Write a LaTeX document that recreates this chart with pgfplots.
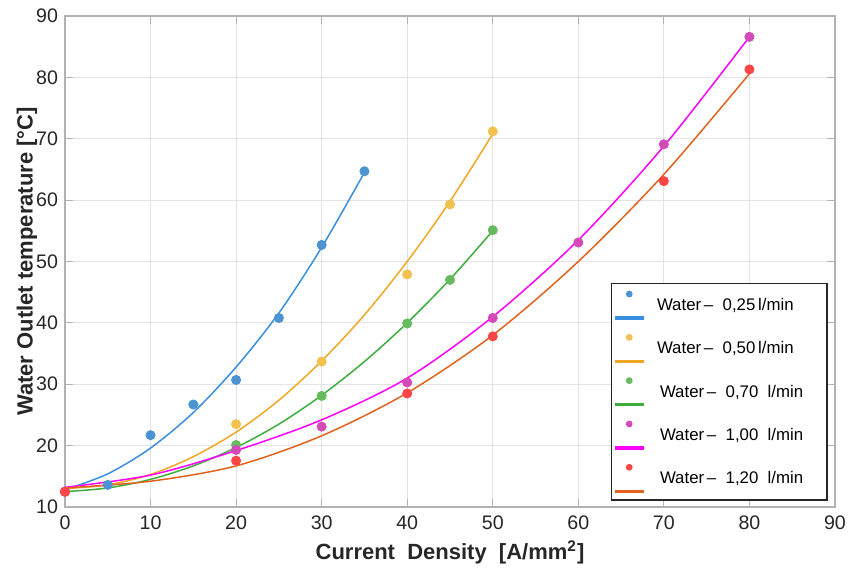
\documentclass[border=0pt]{standalone}
\usepackage{fontspec}
\setmainfont{Liberation Sans}
\usepackage{pgfplots}
\pgfplotsset{compat=1.18}

\definecolor{tickgray}{HTML}{262626}
\definecolor{bluedot}{HTML}{4C93D1}
\definecolor{blueline}{HTML}{3A8FE0}
\definecolor{yeldot}{HTML}{F2C150}
\definecolor{yelline}{HTML}{F0A824}
\definecolor{grndot}{HTML}{66BB5E}
\definecolor{grnline}{HTML}{3DAE3D}
\definecolor{magdot}{HTML}{D44BB8}
\definecolor{magline}{HTML}{FF00FF}
\definecolor{reddot}{HTML}{FF4545}
\definecolor{orgline}{HTML}{E0621E}

\pgfplotsset{
  dotline/.style 2 args={legend image code/.code={
      \fill[#1] (7pt,6pt) circle (1.3pt);
      \fill[#2] (0pt,-6.5pt) rectangle (14pt,-5.5pt);
      \path (-1.5pt,0pt) (15.5pt,0pt);}},
  dots/.style={only marks, mark=*, mark size=2.3pt, color=#1, forget plot},
  fit/.style={no marks, smooth, line width=0.75pt, color=#1},
}

\begin{document}
\begin{tikzpicture}
\useasboundingbox (-32.5pt,-30.5pt) rectangle (391.5pt,253.5pt);
\begin{axis}[
  scale only axis, width=385pt, height=245.5pt,
  xmin=0, xmax=90, ymin=10, ymax=90,
  xtick={0,10,...,90}, ytick={10,20,...,90},
  grid=major, major grid style={gray!22, line width=0.6pt},
  axis line style={gray!60, line width=0.6pt},
  tick style={gray!60, line width=0.6pt},
  tick align=inside, major tick length=4pt,
  tick label style={font=\fontsize{9.8}{11}\selectfont, text=tickgray},
  /pgf/number format/assume math mode=true,
  xticklabel style={yshift=-1pt},
  xlabel={\textbf{Current\ \ Density\ \ [A/mm\textsuperscript{2}]}},
  ylabel={\textbf{Water Outlet temperature [°C]}},
  label style={font=\fontsize{11}{13}\selectfont, text=tickgray},
  xlabel style={at={(axis description cs:0.5,0)}, anchor=center, yshift=-22.5pt},
  ylabel style={at={(axis description cs:-0.0494,0.5)}, anchor=center},
  legend style={at={(rel axis cs:0.709,0.456)}, anchor=north west,
    draw=tickgray, line width=0.6pt, fill=white,
    font=\fontsize{8.4}{9.5}\selectfont, inner xsep=0pt, inner ysep=3.5pt,
    row sep=7.1pt, column sep=0pt},
  legend cell align=left,
]
% 0,25 l/min
\addplot[dots=bluedot] coordinates {(0,12.5) (5,13.6) (10,21.7) (15,26.7) (20,30.7) (25,40.8) (30,52.7) (35,64.7)};
\addplot[fit=blueline, dotline={bluedot}{blueline}] coordinates {
  (0,12.8) (5,15.4) (10,19.6) (15,25.4) (20,32.8) (25,41.6) (30,52.3) (35,64.5)};
\addlegendentry{\hspace{3pt}\makebox[83pt][l]{Water\,--\ \ 0,25\,l/min}}
% 0,50 l/min
\addplot[dots=yeldot] coordinates {(0,12.5) (20,23.5) (30,33.7) (40,47.9) (45,59.3) (50,71.2)};
\addplot[fit=yelline, dotline={yeldot}{yelline}] coordinates {
  (0,13.0) (5,13.6) (10,15.3) (15,18.2) (20,22.2) (25,27.4) (30,33.8) (35,41.3) (40,50.0) (45,59.8) (50,70.8)};
\addlegendentry{\hspace{3pt}\makebox[83pt][l]{Water\,--\ \ 0,50\,l/min}}
% 0,70 l/min
\addplot[dots=grndot] coordinates {(0,12.5) (20,20.1) (30,28.1) (40,39.9) (45,47.0) (50,55.1)};
\addplot[fit=grnline, dotline={grndot}{grnline}] coordinates {
  (0,12.5) (5,13.1) (10,14.5) (15,16.7) (20,19.7) (25,23.5) (30,28.2) (35,33.7) (40,40.0) (45,47.1) (50,55.0)};
\addlegendentry{\hspace{4.5pt}\makebox[81.5pt][l]{Water\,--\ \ 0,70\ \ l/min}}
% 1,00 l/min
\addplot[dots=magdot] coordinates {(0,12.5) (20,19.3) (30,23.1) (40,30.3) (50,40.8) (60,53.1) (70,69.1) (80,86.6)};
\addplot[fit=magline, dotline={magdot}{magline}] coordinates {
  (0,13.2) (10,15.2) (20,19.2) (30,24.2) (40,31.0) (50,41.0) (60,53.5) (70,68.8) (80,86.6)};
\addlegendentry{\hspace{4.5pt}\makebox[81.5pt][l]{Water\,--\ \ 1,00\ \ l/min}}
% 1,20 l/min
\addplot[dots=reddot] coordinates {(0,12.5) (20,17.55) (40,28.5) (50,37.8) (70,63.1) (80,81.3)};
\addplot[fit=orgline, dotline={reddot}{orgline}] coordinates {
  (0,13.1) (10,14.2) (20,16.7) (30,21.6) (40,28.6) (50,38.0) (60,50.0) (70,64.2) (80,80.6)};
\addlegendentry{\hspace{4.5pt}\makebox[81.5pt][l]{Water\,--\ \ 1,20\ \ l/min}}
\end{axis}
\end{tikzpicture}
\end{document}
